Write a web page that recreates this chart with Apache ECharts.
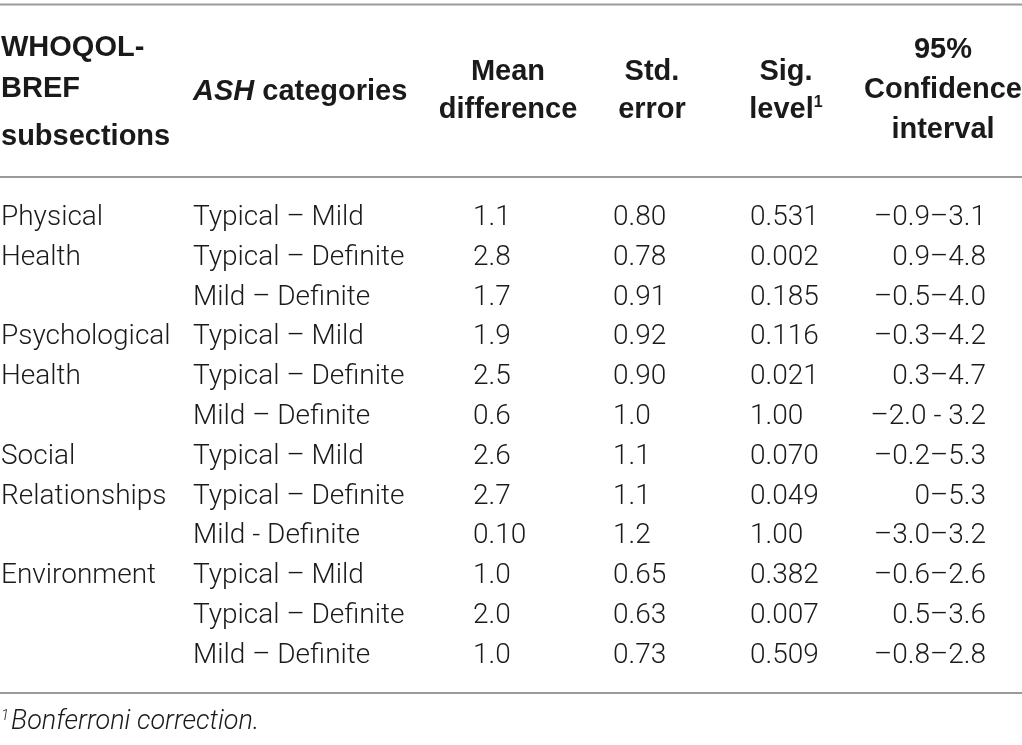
<!DOCTYPE html>
<html>
<head>
<meta charset="utf-8">
<script src="https://cdn.jsdelivr.net/npm/echarts@6/dist/echarts.min.js"></script>
<style>
    html, body { margin: 0; padding: 0; background: #fff; }
    #chart { width: 1022px; height: 745px; }
</style>
</head>
<body>
<div id="chart"></div>
<script>
/*
|--------------------------------------------------------------------------
| Table data
|--------------------------------------------------------------------------
*/

const subsections = ['Physical', 'Health', '', 'Psychological', 'Health', '', 'Social', 'Relationships', '', 'Environment', '', ''];
const ashCategories = [
    'Typical – Mild', 'Typical – Definite', 'Mild – Definite',
    'Typical – Mild', 'Typical – Definite', 'Mild – Definite',
    'Typical – Mild', 'Typical – Definite', 'Mild - Definite',
    'Typical – Mild', 'Typical – Definite', 'Mild – Definite',
];
const meanDifference = ['1.1', '2.8', '1.7', '1.9', '2.5', '0.6', '2.6', '2.7', '0.10', '1.0', '2.0', '1.0'];
const stdError = ['0.80', '0.78', '0.91', '0.92', '0.90', '1.0', '1.1', '1.1', '1.2', '0.65', '0.63', '0.73'];
const sigLevel = ['0.531', '0.002', '0.185', '0.116', '0.021', '1.00', '0.070', '0.049', '1.00', '0.382', '0.007', '0.509'];
const confidenceInterval = [
    '–0.9–3.1', '0.9–4.8', '–0.5–4.0', '–0.3–4.2', '0.3–4.7', '–2.0 - 3.2',
    '–0.2–5.3', '0–5.3', '–3.0–3.2', '–0.6–2.6', '0.5–3.6', '–0.8–2.8',
];

const headerLines = [
    ['WHOQOL-', 'BREF', 'subsections'],
    ['{i|ASH} categories'],
    ['Mean', 'difference'],
    ['Std.', 'error'],
    ['Sig.', 'level{sup|1}'],
    ['95%', 'Confidence', 'interval'],
];
const footnote = '{sup|1}Bonferroni correction.';

const columns = [subsections, ashCategories, meanDifference, stdError, sigLevel, confidenceInterval];

/*
|--------------------------------------------------------------------------
| Layout (axis units = page pixels)
|--------------------------------------------------------------------------
*/

const PAGE_W = 1022;
const PAGE_H = 745;
const HEAD_FONT = "'Liberation Sans', Arial, sans-serif";
const BODY_FONT = "Roboto, 'Liberation Sans', sans-serif";
const TEXT_COLOR = '#1a1a1a';
const RULE_COLOR = '#9a9a9a';

const headerAnchors = [[1, 'left'], [193, 'left'], [508, 'center'], [652, 'center'], [786, 'center'], [943, 'center']];
const headerLineY = [[48, 89, 137], [92], [72, 110], [72, 110], [72, 110], [50, 90, 130]];
const bodyAnchors = [[1, 'left'], [193, 'left'], [473, 'left'], [613, 'left'], [750, 'left'], [986, 'right']];
const firstRowY = 218;
const rowStep = 39.8;
const rulesY = [4.5, 177, 693];
const footnoteY = 722;

/*
|--------------------------------------------------------------------------
| Series data built from the arrays above
|--------------------------------------------------------------------------
*/

// [column, line] pairs for header, [column, row] pairs for body
const headerItems = headerLines.flatMap((lines, c) => lines.map((_, l) => [c, l]));
const bodyItems = columns.flatMap((col, c) => col.map((_, r) => [c, r]));

function renderHeader(params, api) {
    const c = api.value(0);
    const l = api.value(1);
    const [x, y] = api.coord([headerAnchors[c][0], headerLineY[c][l]]);
    return {
        type: 'text',
        x, y,
        style: {
            text: headerLines[c][l],
            fill: TEXT_COLOR,
            fontFamily: HEAD_FONT,
            fontSize: 29,
            fontWeight: 'bold',
            align: headerAnchors[c][1],
            verticalAlign: 'middle',
            rich: {
                i: { fontFamily: HEAD_FONT, fontSize: 29, fontWeight: 'bold', fontStyle: 'italic', fill: TEXT_COLOR },
                sup: { fontFamily: HEAD_FONT, fontSize: 16, fontWeight: 'bold', fill: TEXT_COLOR, padding: [0, 0, 14, 0] },
            },
        },
    };
}

function renderBody(params, api) {
    const c = api.value(0);
    const r = api.value(1);
    const [x, y] = api.coord([bodyAnchors[c][0], firstRowY + r * rowStep]);
    return {
        type: 'text',
        x, y,
        style: {
            text: columns[c][r],
            fill: TEXT_COLOR,
            fontFamily: BODY_FONT,
            fontSize: 28,
            fontWeight: 300,
            align: bodyAnchors[c][1],
            verticalAlign: 'middle',
        },
    };
}

function renderRule(params, api) {
    const y = api.value(0);
    const start = api.coord([0, y]);
    const end = api.coord([PAGE_W, y]);
    return {
        type: 'line',
        shape: { x1: start[0], y1: start[1], x2: end[0], y2: end[1] },
        style: { stroke: RULE_COLOR, lineWidth: 2 },
    };
}

function renderFootnote(params, api) {
    const [x, y] = api.coord([1, api.value(0)]);
    return {
        type: 'text',
        x, y,
        style: {
            text: footnote,
            fill: TEXT_COLOR,
            fontFamily: BODY_FONT,
            fontSize: 27,
            fontWeight: 300,
            fontStyle: 'italic',
            align: 'left',
            verticalAlign: 'middle',
            rich: {
                sup: { fontFamily: BODY_FONT, fontSize: 15, fontWeight: 300, fontStyle: 'italic', fill: TEXT_COLOR, padding: [0, 2, 12, 0] },
            },
        },
    };
}

/*
|--------------------------------------------------------------------------
| Chart
|--------------------------------------------------------------------------
*/

const chart = echarts.init(document.getElementById('chart'), null, { renderer: 'canvas' });

chart.setOption({
    animation: false,
    backgroundColor: '#ffffff',
    grid: { left: 0, right: 0, top: 0, bottom: 0 },
    xAxis: { type: 'value', min: 0, max: PAGE_W, show: false },
    yAxis: { type: 'value', min: 0, max: PAGE_H, inverse: true, show: false },
    series: [
        { type: 'custom', clip: false, renderItem: renderRule, data: rulesY.map(y => [y]) },
        { type: 'custom', clip: false, renderItem: renderHeader, data: headerItems },
        { type: 'custom', clip: false, renderItem: renderBody, data: bodyItems },
        { type: 'custom', clip: false, renderItem: renderFootnote, data: [[footnoteY]] },
    ],
});
</script>
</body>
</html>
